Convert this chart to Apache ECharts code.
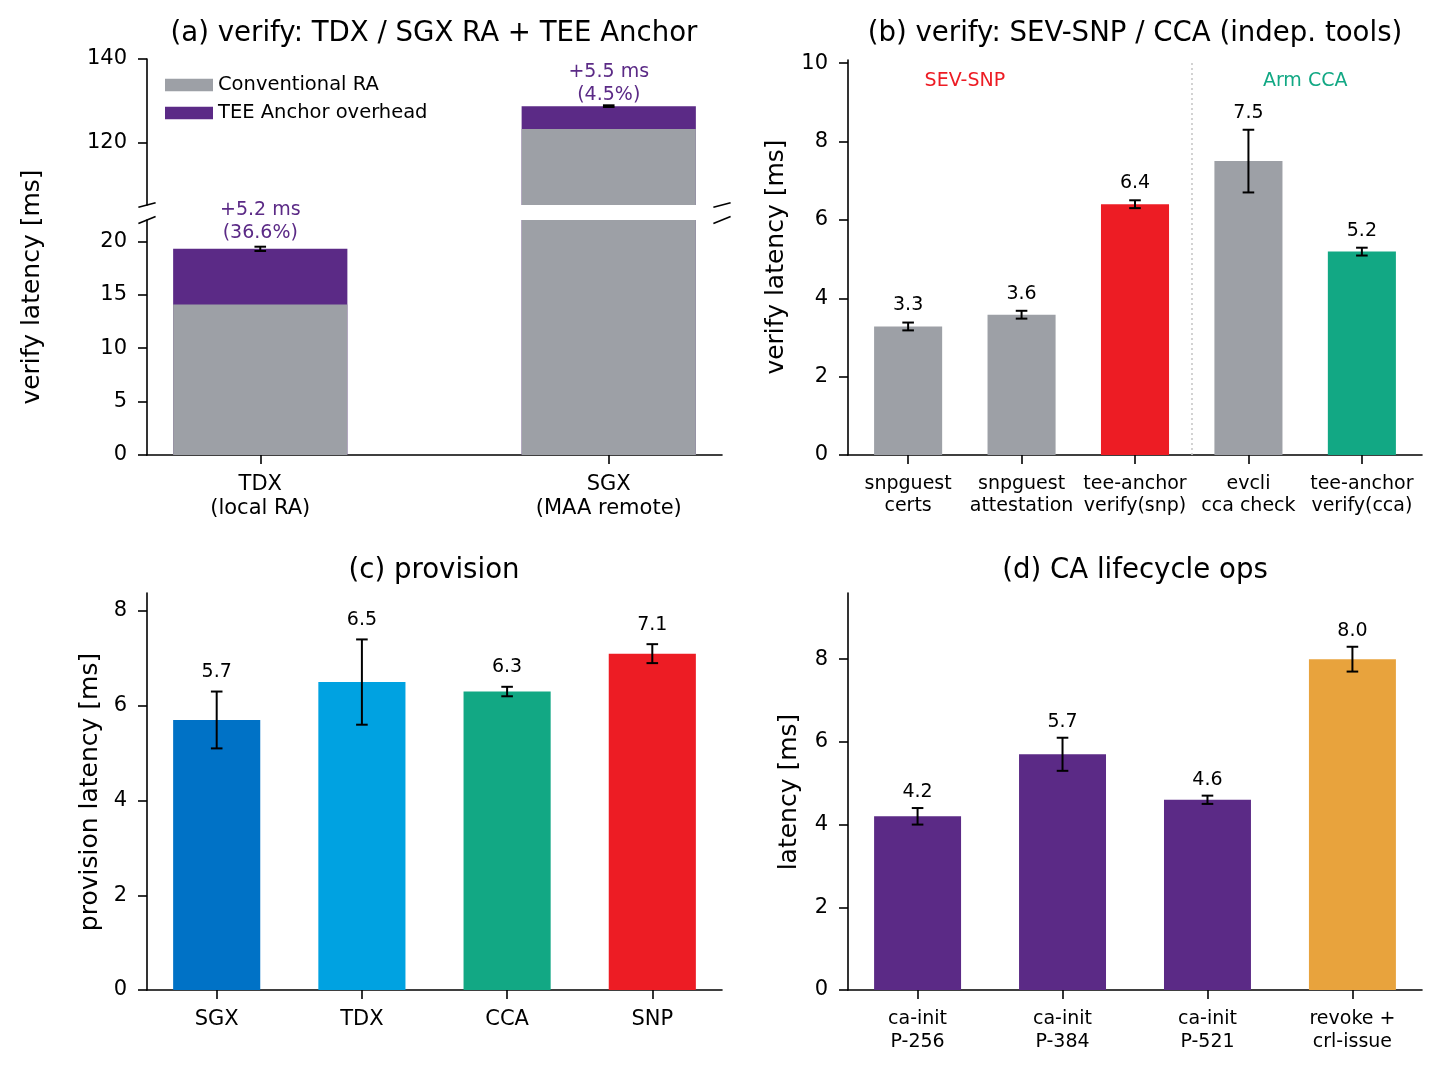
<!DOCTYPE html>
<html>
<head>
<meta charset="utf-8">
<script src="https://cdn.jsdelivr.net/npm/echarts@6/dist/echarts.min.js"></script>
<style>
  html, body { margin: 0; padding: 0; background: #fff; }
  #main { width: 1442px; height: 1070px; }
</style>
</head>
<body>
<div id="main"></div>
<script>
// ---- data ----
const aCategories = ['TDX\n(local RA)', 'SGX\n(MAA remote)'];
const aConventional = [14.1, 123.2];
const aOverhead = [5.2, 5.5];
const aErr = [0.2, 0.2];
const aOverheadPct = [36.6, 4.5];
const aTicksUpper = [120, 140];
const aTicksLower = [0, 5, 10, 15, 20];

const bCategories = ['snpguest\ncerts', 'snpguest\nattestation', 'tee-anchor\nverify(snp)', 'evcli\ncca check', 'tee-anchor\nverify(cca)'];
const bValues = [3.28, 3.58, 6.4, 7.5, 5.19];
const bErr = [0.1, 0.1, 0.1, 0.8, 0.1];
const bGroups = ['SEV-SNP', 'Arm CCA'];
const bGroupPos = [0.5, 3.5];
const bTicks = [0, 2, 4, 6, 8, 10];

const cCategories = ['SGX', 'TDX', 'CCA', 'SNP'];
const cValues = [5.7, 6.5, 6.3, 7.1];
const cErr = [0.6, 0.9, 0.1, 0.2];
const cTicks = [0, 2, 4, 6, 8];

const dCategories = ['ca-init\nP-256', 'ca-init\nP-384', 'ca-init\nP-521', 'revoke +\ncrl-issue'];
const dValues = [4.2, 5.7, 4.6, 8.0];
const dErr = [0.2, 0.4, 0.1, 0.3];
const dTicks = [0, 2, 4, 6, 8];

// ---- style ----
const FONT = 'DejaVu Sans';
const GRAY = '#9da0a6', PURPLE = '#5b2a86', RED = '#ed1c24', GREEN = '#12a884';
const BLUE = '#0072c6', SKY = '#00a2e1', ORANGE = '#e8a33d';
const bColors = [GRAY, GRAY, RED, GRAY, GREEN];
const cColors = [BLUE, SKY, GREEN, RED];
const dColors = [PURPLE, PURPLE, PURPLE, ORANGE];

// grids: 0 a-upper, 1 a-lower, 2 b, 3 c, 4 d
const grids = [
  { left: 147, top: 59, width: 575, height: 146 },
  { left: 147, top: 220, width: 575, height: 235 },
  { left: 848, top: 60, width: 574, height: 395 },
  { left: 147, top: 593, width: 575, height: 397 },
  { left: 848, top: 593, width: 574, height: 397 }
];
const xRange = [[-0.325, 1.325], [-0.325, 1.325], [-0.53, 4.53], [-0.48, 3.48], [-0.48, 3.48]];
const yRange = [[105, 140], [0, 22], [0, 10.08], [0, 8.38], [0, 9.6]];

const lineStyle = { color: '#000', width: 1.6 };

function barPx(gi, frac) {
  return frac * grids[gi].width / (xRange[gi][1] - xRange[gi][0]);
}

function xAxisFor(gi, cats, show, fontSize, lineHeight, margin) {
  const ticks = cats.map((c, i) => i);
  return {
    type: 'value', gridIndex: gi, show: show,
    min: xRange[gi][0], max: xRange[gi][1],
    splitLine: { show: false },
    axisLine: { show: true, onZero: false, lineStyle: lineStyle },
    axisTick: { show: true, length: 9, lineStyle: lineStyle, customValues: ticks },
    axisLabel: {
      customValues: ticks, margin: margin, color: '#000',
      fontFamily: FONT, fontSize: fontSize, lineHeight: lineHeight,
      formatter: v => cats[Math.round(v)]
    }
  };
}

function yAxisFor(gi, ticks) {
  return {
    type: 'value', gridIndex: gi,
    min: yRange[gi][0], max: yRange[gi][1],
    splitLine: { show: false },
    axisLine: { show: true, onZero: false, lineStyle: lineStyle },
    axisTick: { show: true, length: 9, lineStyle: lineStyle, customValues: ticks },
    axisLabel: {
      customValues: ticks, margin: 20, color: '#000', fontFamily: FONT, fontSize: 21,
      padding: [4, 0, 0, 0]
    }
  };
}

// error bars with text above them
function errSeries(gi, points, labels, cfg) {
  return {
    type: 'custom', xAxisIndex: gi, yAxisIndex: gi, z: 10, silent: true,
    data: points,
    renderItem: function (params, api) {
      const x = api.value(0), m = api.value(1), e = api.value(2);
      const hi = api.coord([x, m + e]);
      const lo = api.coord([x, m - e]);
      const cap = 5.8;
      const st = { stroke: '#000', lineWidth: 2 };
      return {
        type: 'group',
        children: [
          { type: 'line', shape: { x1: hi[0], y1: hi[1], x2: lo[0], y2: lo[1] }, style: st },
          { type: 'line', shape: { x1: hi[0] - cap, y1: hi[1], x2: hi[0] + cap, y2: hi[1] }, style: st },
          { type: 'line', shape: { x1: lo[0] - cap, y1: lo[1], x2: lo[0] + cap, y2: lo[1] }, style: st },
          {
            type: 'text', x: hi[0], y: hi[1] - cfg.offset,
            style: {
              text: labels[params.dataIndex], fill: cfg.color || '#000',
              fontFamily: FONT, fontSize: 19, lineHeight: cfg.lineHeight || 22,
              align: 'center', verticalAlign: cfg.va || 'middle'
            }
          }
        ]
      };
    }
  };
}

function coloredBars(gi, values, colors) {
  return {
    type: 'bar', xAxisIndex: gi, yAxisIndex: gi, barWidth: barPx(gi, 0.6),
    data: values.map((v, i) => ({ value: [i, v], itemStyle: { color: colors[i] } }))
  };
}

const aTotal = aConventional.map((v, i) => +(v + aOverhead[i]).toFixed(2));
const aLabels = aOverhead.map((v, i) => '+' + v.toFixed(1) + ' ms\n(' + aOverheadPct[i].toFixed(1) + '%)');

const series = [];
[0, 1].forEach(gi => {
  series.push({
    name: 'TEE Anchor overhead', type: 'bar', xAxisIndex: gi, yAxisIndex: gi,
    barWidth: barPx(gi, 0.5), barGap: '-100%', itemStyle: { color: PURPLE },
    data: aTotal.map((v, i) => [i, v])
  });
  series.push({
    name: 'Conventional RA', type: 'bar', xAxisIndex: gi, yAxisIndex: gi,
    barWidth: barPx(gi, 0.5), barGap: '-100%', itemStyle: { color: GRAY },
    data: aConventional.map((v, i) => [i, v])
  });
});
// TDX lives in the lower part, SGX in the upper part
series.push(errSeries(1, [[0, aTotal[0], aErr[0]]], [aLabels[0]], { offset: 2, va: 'bottom', color: PURPLE, lineHeight: 23 }));
series.push(errSeries(0, [[1, aTotal[1], aErr[1]]], [aLabels[1]], { offset: -1.5, va: 'bottom', color: PURPLE, lineHeight: 23 }));

const bBars = coloredBars(2, bValues, bColors);
bBars.markLine = {
  silent: true, symbol: 'none', label: { show: false },
  lineStyle: { type: [2, 3], color: '#c8c8c8', width: 1.6 },
  data: [{ xAxis: 2.5 }]
};
series.push(bBars);
series.push(errSeries(2, bValues.map((v, i) => [i, v, bErr[i]]), bValues.map(v => v.toFixed(1)), { offset: 17 }));
series.push({
  type: 'custom', xAxisIndex: 2, yAxisIndex: 2, silent: true,
  data: bGroupPos.map(x => [x, 9.55]),
  renderItem: function (params, api) {
    const p = api.coord([api.value(0), api.value(1)]);
    return {
      type: 'text', x: p[0], y: p[1],
      style: {
        text: bGroups[params.dataIndex], fill: [RED, GREEN][params.dataIndex],
        fontFamily: FONT, fontSize: 19, align: 'center', verticalAlign: 'middle'
      }
    };
  }
});

series.push(coloredBars(3, cValues, cColors));
series.push(errSeries(3, cValues.map((v, i) => [i, v, cErr[i]]), cValues.map(v => v.toFixed(1)), { offset: 19.5 }));
series.push(coloredBars(4, dValues, dColors));
series.push(errSeries(4, dValues.map((v, i) => [i, v, dErr[i]]), dValues.map(v => v.toFixed(1)), { offset: 16 }));

// titles, axis names and the break marks
function title(text, x, y) {
  return { type: 'text', x: x, y: y, style: { text: text, fill: '#000', fontFamily: FONT, fontSize: 27.6, align: 'center', verticalAlign: 'middle' } };
}
function yName(text, x, y) {
  return { type: 'text', x: x, y: y, rotation: Math.PI / 2, style: { text: text, fill: '#000', fontFamily: FONT, fontSize: 25, align: 'center', verticalAlign: 'middle' } };
}
function breakMark(x, y, dy) {
  return { type: 'line', shape: { x1: x - 8.6, y1: y + dy, x2: x + 8.6, y2: y - dy }, style: { stroke: '#000', lineWidth: 1.6 } };
}
const up = grids[0], lo = grids[1];
const graphic = [
  title('(a) verify: TDX / SGX RA + TEE Anchor', 434, 34),
  title('(b) verify: SEV-SNP / CCA (indep. tools)', 1135, 34),
  title('(c) provision', 434, 570.5),
  title('(d) CA lifecycle ops', 1135, 570.5),
  yName('verify latency [ms]', 32, 287),
  yName('verify latency [ms]', 776, 257),
  yName('provision latency [ms]', 90, 792),
  yName('latency [ms]', 789, 792),
  breakMark(up.left, up.top + up.height, 2.2),
  breakMark(up.left + up.width, up.top + up.height, 2.2),
  breakMark(lo.left, lo.top, 3.5),
  breakMark(lo.left + lo.width, lo.top, 3.5)
];

const chart = echarts.init(document.getElementById('main'));
chart.setOption({
  backgroundColor: '#fff',
  animation: false,
  textStyle: { fontFamily: FONT },
  grid: grids.map(g => Object.assign({ outerBoundsMode: 'none' }, g)),
  legend: {
    data: ['Conventional RA', 'TEE Anchor overhead'],
    orient: 'vertical', left: 165, top: 75, padding: 0,
    icon: 'rect', itemWidth: 48, itemHeight: 12.5, itemGap: 8,
    selectedMode: false,
    textStyle: { fontFamily: FONT, fontSize: 19.5, color: '#000', lineHeight: 13 }
  },
  xAxis: [
    xAxisFor(0, aCategories, false, 21, 24, 17.5),
    xAxisFor(1, aCategories, true, 21, 24, 17.5),
    xAxisFor(2, bCategories, true, 19, 21.5, 18.5),
    xAxisFor(3, cCategories, true, 21, 23, 18),
    xAxisFor(4, dCategories, true, 19, 23, 17.5)
  ],
  yAxis: [
    yAxisFor(0, aTicksUpper),
    yAxisFor(1, aTicksLower),
    yAxisFor(2, bTicks),
    yAxisFor(3, cTicks),
    yAxisFor(4, dTicks)
  ],
  series: series,
  graphic: graphic
});
</script>
</body>
</html>
